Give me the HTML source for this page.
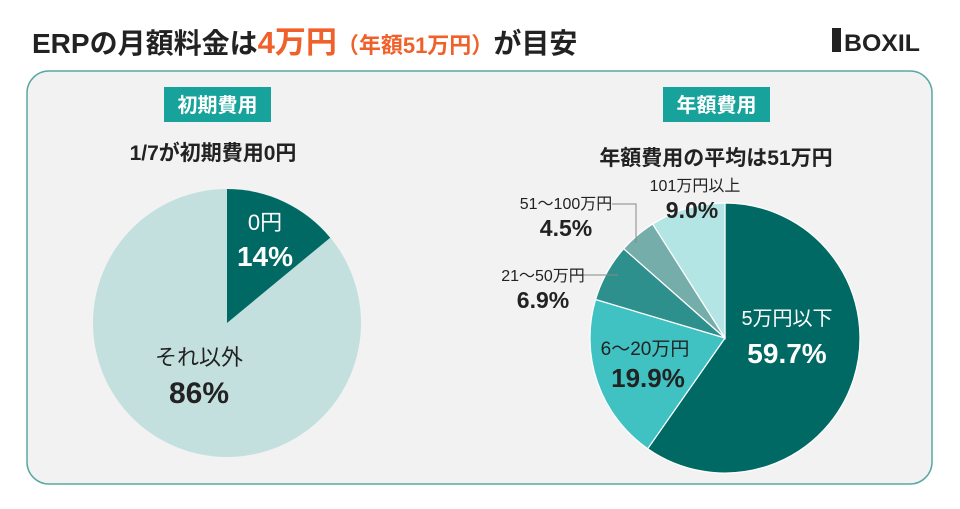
<!DOCTYPE html>
<html><head><meta charset="utf-8"><style>
body{margin:0;width:960px;height:504px;background:#fff;overflow:hidden;font-family:"Liberation Sans","Noto Sans CJK JP",sans-serif;}
</style></head><body>
<svg width="960" height="504" xmlns="http://www.w3.org/2000/svg" font-family="Liberation Sans, Noto Sans CJK JP, sans-serif">
<text x="32" y="53" font-size="28" font-weight="bold" fill="#222">ERPの月額料金は<tspan fill="#f0602a" font-size="31">4万円</tspan><tspan fill="#f0602a" font-size="22">（年額51万円）</tspan>が目安</text>
<rect x="832" y="28" width="9" height="24" fill="#222"/>
<text x="844" y="51" font-size="24" font-weight="bold" fill="#222" textLength="76" lengthAdjust="spacingAndGlyphs">BOXIL</text>
<rect x="27" y="71" width="905" height="413" rx="22" fill="#f2f2f2" stroke="#5aa8a3" stroke-width="1.5"/>
<rect x="164" y="87" width="107" height="35" fill="#17a39b"/>
<text x="217.5" y="112" font-size="20" fill="#fff" text-anchor="middle" font-weight="bold">初期費用</text>
<rect x="663" y="87" width="107" height="35" fill="#17a39b"/>
<text x="716.5" y="112" font-size="20" fill="#fff" text-anchor="middle" font-weight="bold">年額費用</text>
<text x="213" y="160" font-size="21" font-weight="bold" fill="#222" text-anchor="middle">1/7が初期費用0円</text>
<text x="716" y="165" font-size="21" font-weight="bold" fill="#222" text-anchor="middle">年額費用の平均は51万円</text>
<circle cx="227" cy="323" r="134" fill="#c3e0df"/>
<path d="M227,323 L227,189 A134,134 0 0 1 330.2,237.7 Z" fill="#006963"/>
<text x="265" y="230" font-size="22" fill="#fff" text-anchor="middle">0円</text>
<text x="265" y="266" font-size="28" font-weight="bold" fill="#fff" text-anchor="middle">14%</text>
<text x="199" y="365" font-size="22" fill="#222" text-anchor="middle">それ以外</text>
<text x="199" y="403" font-size="30" font-weight="bold" fill="#222" text-anchor="middle">86%</text>
<g stroke="#fff" stroke-width="1.2">
<path d="M725,338 L725,203 A135,135 0 1 1 647.7,448.7 Z" fill="#006963"/>
<path d="M725,338 L647.7,448.7 A135,135 0 0 1 595.6,299.5 Z" fill="#40c2c2"/>
<path d="M725,338 L595.6,299.5 A135,135 0 0 1 623.7,248.7 Z" fill="#2e908c"/>
<path d="M725,338 L623.7,248.7 A135,135 0 0 1 652.7,224 Z" fill="#75adab"/>
<path d="M725,338 L652.7,224 A135,135 0 0 1 725,203 Z" fill="#b3e5e5"/>
</g>
<polyline points="583,275 618,275" fill="none" stroke="#888" stroke-width="1"/>
<polyline points="612,204 636,204 636,243" fill="none" stroke="#888" stroke-width="1"/>
<text x="787" y="325" font-size="20" fill="#fff" text-anchor="middle">5万円以下</text>
<text x="787" y="363" font-size="28" font-weight="bold" fill="#fff" text-anchor="middle">59.7%</text>
<text x="645" y="355" font-size="19" fill="#222" text-anchor="middle">6〜20万円</text>
<text x="648" y="387" font-size="26" font-weight="bold" fill="#222" text-anchor="middle">19.9%</text>
<text x="543" y="281" font-size="16" fill="#222" text-anchor="middle">21〜50万円</text>
<text x="543" y="308" font-size="23" font-weight="bold" fill="#222" text-anchor="middle">6.9%</text>
<text x="566" y="209" font-size="16" fill="#222" text-anchor="middle">51〜100万円</text>
<text x="566" y="236" font-size="23" font-weight="bold" fill="#222" text-anchor="middle">4.5%</text>
<text x="695" y="191" font-size="16" fill="#222" text-anchor="middle">101万円以上</text>
<text x="692" y="218" font-size="23" font-weight="bold" fill="#222" text-anchor="middle">9.0%</text>
</svg>
</body></html>
